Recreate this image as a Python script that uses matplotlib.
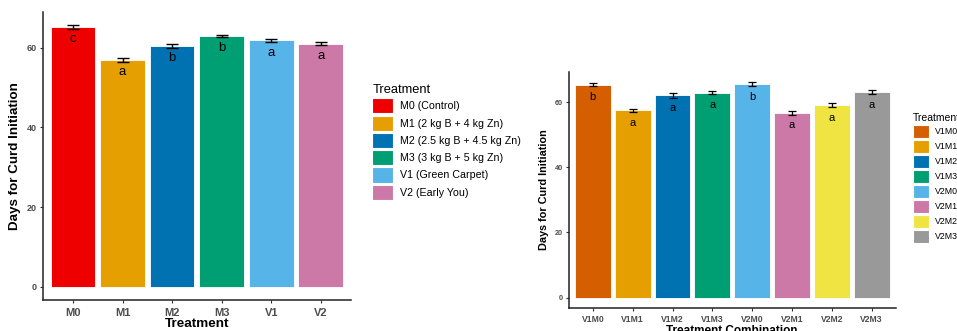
import matplotlib
matplotlib.use("Agg")
import matplotlib.pyplot as plt
from matplotlib.patches import Patch
import numpy as np

plt.rcParams['font.family'] = ['Liberation Sans', 'DejaVu Sans']

# Panel 1: main effects
trt = ["M0", "M1", "M2", "M3", "V1", "V2"]
trt_labels = ["M0 (Control)", "M1 (2 kg B + 4 kg Zn)", "M2 (2.5 kg B + 4.5 kg Zn)",
              "M3 (3 kg B + 5 kg Zn)", "V1 (Green Carpet)", "V2 (Early You)"]
days = [65.2, 56.9, 60.4, 62.9, 61.8, 61.0]
err = [0.45, 0.45, 0.4, 0.35, 0.35, 0.35]
letters = ["c", "a", "b", "b", "a", "a"]
cols1 = ["#EE0000", "#E69F00", "#0072B2", "#009E73", "#56B4E9", "#CC79A7"]

# Panel 2: combinations
combo = ["V1M0", "V1M1", "V1M2", "V1M3", "V2M0", "V2M1", "V2M2", "V2M3"]
days2 = [65.3, 57.4, 62.0, 62.9, 65.5, 56.7, 59.1, 63.1]
err2 = [0.5, 0.55, 0.65, 0.5, 0.5, 0.55, 0.5, 0.5]
letters2 = ["b", "a", "a", "a", "b", "a", "a", "a"]
cols2 = ["#D55E00", "#E69F00", "#0072B2", "#009E73", "#56B4E9", "#CC79A7", "#F0E442", "#999999"]

W, H = 957, 331
fig = plt.figure(figsize=(W / 100, H / 100), dpi=100)

def px_axes(x0, x1, ytop, ybot):
    return fig.add_axes([x0 / W, 1 - ybot / H, (x1 - x0) / W, (ybot - ytop) / H])

def style(ax, xfs, yfs, xpad):
    for s in ["top", "right"]:
        ax.spines[s].set_visible(False)
    for s in ["left", "bottom"]:
        ax.spines[s].set_linewidth(1.1)
        ax.spines[s].set_color("#222222")
    ax.tick_params(length=2.5, width=0.8, color="#333333", labelcolor="#4D4D4D", pad=2)
    ax.tick_params(axis="x", labelsize=xfs, pad=xpad)
    ax.tick_params(axis="y", labelsize=yfs)
    for lab in ax.get_xticklabels() + ax.get_yticklabels():
        lab.set_fontweight("bold")

# left panel
ax1 = px_axes(43.3, 350.5, 12, 300)
x1 = np.arange(len(trt))
ax1.bar(x1, days, width=0.9, color=cols1, edgecolor="white", linewidth=0.6)
ax1.errorbar(x1, days, yerr=err, fmt="none", ecolor="black", elinewidth=1.0,
             capsize=4, capthick=1.0)
for xi, v, l in zip(x1, days, letters):
    ax1.text(xi, v - 3.1, l, ha="center", va="center", fontsize=9.5, color="black")
ax1.set_xlim(-0.6, len(trt) - 0.4)
ax1.set_ylim(-3.3, 68.9)
ax1.set_xticks(x1)
ax1.set_xticklabels(trt)
ax1.set_yticks([0, 20, 40, 60])
style(ax1, 8, 6.5, 3)
ax1.set_ylabel("Days for Curd Initiation", fontsize=9.6, fontweight="bold", labelpad=4)
ax1.set_xlabel("Treatment", fontsize=9.7, fontweight="bold", labelpad=0.5)

h1 = [Patch(facecolor=c, edgecolor="white", linewidth=0.8) for c in cols1]
leg1 = fig.legend(h1, trt_labels, loc="upper left", bbox_to_anchor=(369 / W, 1 - 81 / H),
                  frameon=False, title="Treatment", fontsize=7.7, title_fontsize=9.3,
                  handlelength=1.9, handleheight=1.8, labelspacing=0.2,
                  handletextpad=0.7, borderaxespad=0, borderpad=0.3)
leg1._legend_box.align = "left"

# right panel
ax2 = px_axes(569, 895.5, 71.7, 308.3)
x2 = np.arange(len(combo))
ax2.bar(x2, days2, width=0.9, color=cols2, edgecolor="white", linewidth=0.6)
ax2.errorbar(x2, days2, yerr=err2, fmt="none", ecolor="black", elinewidth=0.9,
             capsize=3, capthick=0.9)
for xi, v, l in zip(x2, days2, letters2):
    ax2.text(xi, v - 3.9, l, ha="center", va="center", fontsize=8, color="black")
ax2.set_xlim(-0.6, len(combo) - 0.4)
ax2.set_ylim(-3.3, 69.3)
ax2.set_xticks(x2)
ax2.set_xticklabels(combo)
ax2.set_yticks([0, 20, 40, 60])
style(ax2, 6.2, 5.2, 2)
ax2.set_ylabel("Days for Curd Initiation", fontsize=7.8, fontweight="bold", labelpad=4)
ax2.set_xlabel("Treatment Combination", fontsize=8.5, fontweight="bold", labelpad=1)

h2 = [Patch(facecolor=c, edgecolor="white", linewidth=0.8) for c in cols2]
leg2 = fig.legend(h2, combo, loc="upper left", bbox_to_anchor=(910 / W, 1 - 110 / H),
                  frameon=False, title="Treatment", fontsize=6.3, title_fontsize=7.5,
                  handlelength=1.9, handleheight=1.8, labelspacing=0.3,
                  handletextpad=0.7, borderaxespad=0, borderpad=0.3)
leg2._legend_box.align = "left"

fig.savefig("out.png", dpi=100)
